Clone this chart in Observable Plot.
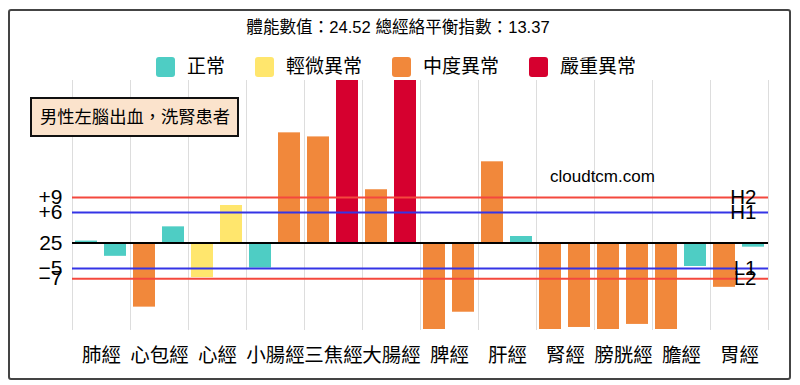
<!DOCTYPE html>
<html>
<head>
<meta charset="utf-8">
<script src="https://cdn.jsdelivr.net/npm/d3@7"></script>
<script src="https://cdn.jsdelivr.net/npm/@observablehq/plot@0.6"></script>
<style>
  body { margin: 0; background: #fff; }
  #wrap { position: relative; width: 800px; height: 385px; overflow: hidden; font-family: "Liberation Sans", "Noto Sans CJK TC", sans-serif; color: #000; }
  #border { position: absolute; left: 8px; top: 9px; width: 783px; height: 371px; border: 2px solid #444; box-sizing: border-box; border-radius: 3px; pointer-events: none; }
  #title { position: absolute; left: 0; top: 18px; width: 796px; text-align: center; font-size: 16.6px; line-height: 20px; }
  #legend { position: absolute; left: 0; top: 56px; width: 792px; display: flex; justify-content: center; gap: 30px; font-size: 19px; line-height: 21px; }
  #legend .item { display: flex; align-items: center; }
  #legend .sw { width: 19px; height: 20px; border-radius: 3px; margin-right: 12px; }
  #note { position: absolute; left: 30px; top: 97px; width: 209px; height: 40px; box-sizing: border-box; border: 2px solid #111; background: #fbe3cc; font-size: 17.3px; line-height: 36px; padding-left: 8px; white-space: nowrap; }
  #site { position: absolute; left: 550px; top: 166px; font-size: 17px; line-height: 22px; }
  #chart { position: absolute; left: 0; top: 0; }
</style>
</head>
<body>
<div id="wrap">
  <div id="chart"></div>
  <div id="title"></div>
  <div id="legend"></div>
  <div id="note"></div>
  <div id="site"></div>
  <div id="border"></div>
</div>
<script>
// ---- data ----
const bodyValue = 24.52;
const balanceIndex = 13.37;
const meridians = ["肺經","心包經","心經","小腸經","三焦經","大腸經","脾經","肝經","腎經","膀胱經","膽經","胃經"];
const sides = ["左","右"];
const leftValues  = [0.4, -12.6, -6.8, -4.9, 20.9, 10.5, -19, 16.0, -19, -19, -19, -8.7];
const rightValues = [-2.6, 3.2, 7.4, 21.7, 38, 38, -13.6, 1.3, -16.6, -16.0, -4.6, -0.8];
const leftStatus  = ["正常","中度異常","輕微異常","正常","中度異常","中度異常","中度異常","中度異常","中度異常","中度異常","中度異常","中度異常"];
const rightStatus = ["正常","正常","輕微異常","中度異常","嚴重異常","嚴重異常","中度異常","正常","中度異常","中度異常","正常","正常"];
const statusNames  = ["正常","輕微異常","中度異常","嚴重異常"];
const statusColors = ["#4ecdc4","#ffe66d","#f1883b","#d6002f"];
const levelValues = [9, 6, -5, -7];
const levelNames  = ["H2","H1","L1","L2"];
const levelColors = ["#f4483e","#3434e6","#3434e6","#f4483e"];
const yTicks = [9, 6, 0, -5, -7];
const yTickLabels = ["+9","+6","25","−5","−7"];
const noteText = "男性左腦出血，洗腎患者";
const siteText = "cloudtcm.com";

// ---- tables ----
const bars = meridians.flatMap((m, i) => [
  {meridian: m, side: sides[0], value: leftValues[i], status: leftStatus[i]},
  {meridian: m, side: sides[1], value: rightValues[i], status: rightStatus[i]}
]);
const levels = levelValues.map((v, i) => ({value: v, name: levelNames[i], color: levelColors[i]}));
const tickLabel = new Map(yTicks.map((t, i) => [t, yTickLabels[i]]));
const lastMeridian = meridians[meridians.length - 1];

// ---- html text ----
document.getElementById("title").textContent = `體能數值：${bodyValue} 總經絡平衡指數：${balanceIndex}`;
document.getElementById("note").textContent = noteText;
document.getElementById("site").textContent = siteText;
const legend = document.getElementById("legend");
statusNames.forEach((s, i) => {
  const item = document.createElement("div");
  item.className = "item";
  const sw = document.createElement("div");
  sw.className = "sw";
  sw.style.background = statusColors[i];
  const t = document.createElement("span");
  t.textContent = s;
  item.append(sw, t);
  legend.append(item);
});

// ---- plot ----
const chart = Plot.plot({
  width: 800,
  height: 385,
  marginTop: 80,
  marginBottom: 56,
  marginLeft: 68,
  marginRight: 28,
  style: {fontFamily: '"Liberation Sans", "Noto Sans CJK TC", sans-serif', color: "#000", background: "transparent"},
  fx: {domain: meridians, padding: 0},
  x: {domain: sides, paddingInner: 0.23, paddingOuter: 0.1, axis: null},
  y: {domain: [-17, 32]},
  color: {domain: statusNames, range: statusColors},
  marks: [
    Plot.frame({anchor: "left", stroke: "#dddddd", strokeWidth: 1}),
    Plot.frame({anchor: "right", stroke: "#dddddd", strokeWidth: 1}),
    Plot.barY(bars, {fx: "meridian", x: "side", y: "value", fill: "status", clip: true}),
    Plot.ruleY(levels, {y: "value", stroke: "color", strokeWidth: 2}),
    Plot.ruleY([0], {stroke: "#000", strokeWidth: 2}),
    Plot.text(levels, {fx: () => lastMeridian, y: "value", text: "name", frameAnchor: "right", textAnchor: "end", dx: -12, fontSize: 20.5, fill: "#000"}),
    Plot.axisY(yTicks, {anchor: "left", tickSize: 0, tickPadding: 10, fontSize: 21, tickFormat: d => tickLabel.get(d), label: null}),
    Plot.axisFx({anchor: "bottom", tickSize: 0, tickPadding: 19, fontSize: 19.5, label: null})
  ]
});
document.getElementById("chart").append(chart);
</script>
</body>
</html>
